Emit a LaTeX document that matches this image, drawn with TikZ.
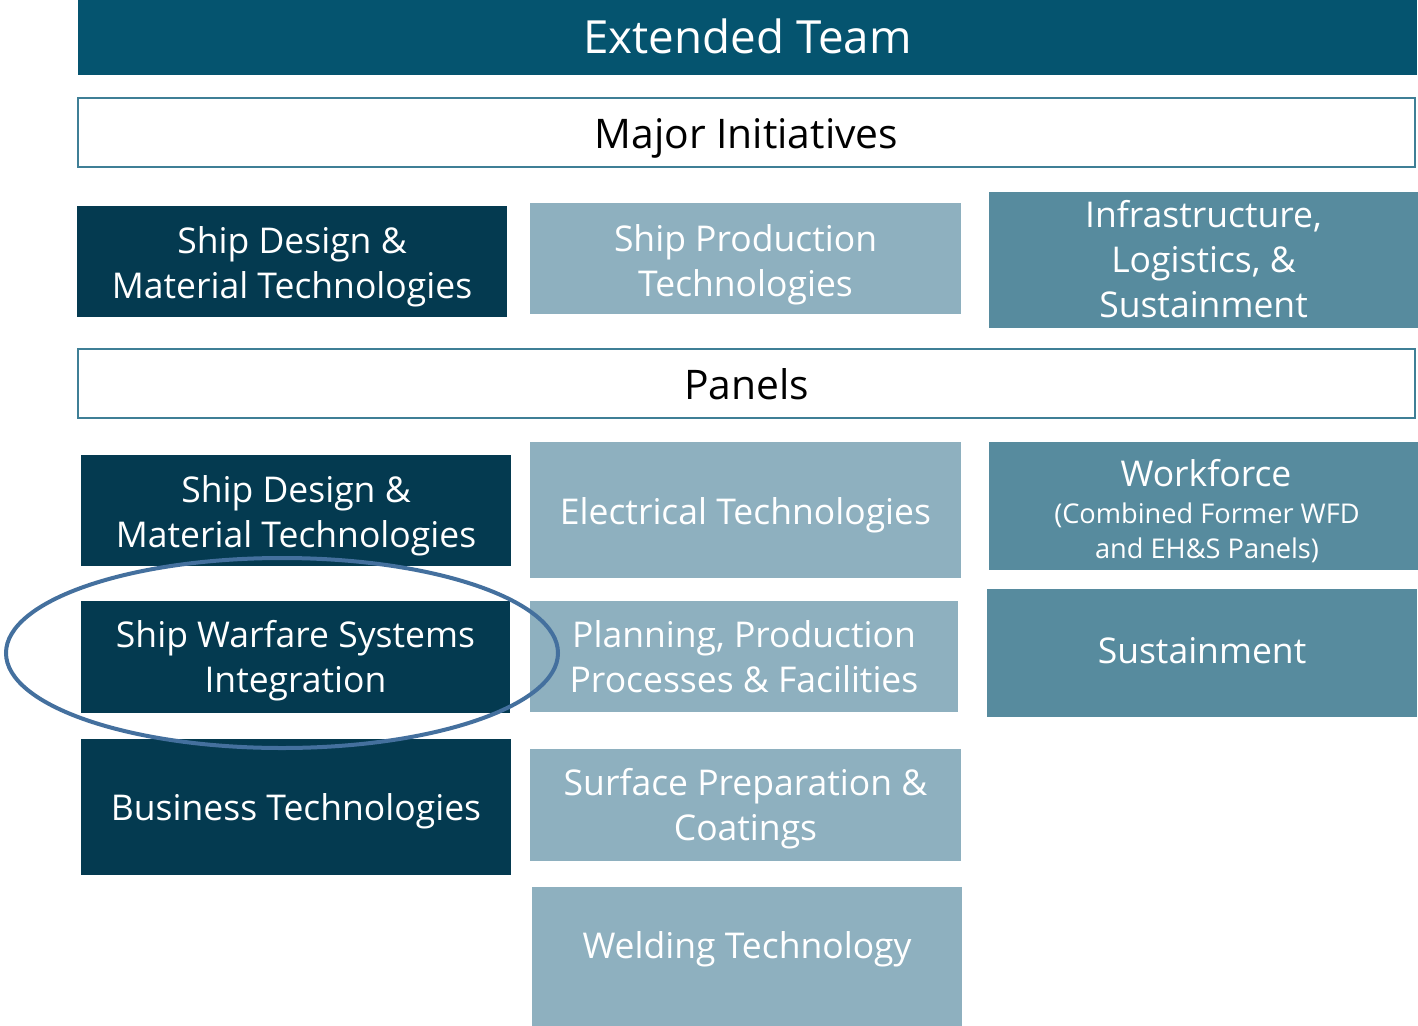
\documentclass[tikz,border=0pt]{standalone}
\usepackage{fontspec}
\setmainfont{Open Sans}
\definecolor{extc}{HTML}{05546F}
\definecolor{navy}{HTML}{043A50}
\definecolor{lightc}{HTML}{8EB0BF}
\definecolor{midc}{HTML}{578B9E}
\definecolor{framec}{HTML}{3F7F96}
\definecolor{ringc}{HTML}{44709E}
\begin{document}
\begin{tikzpicture}[x=1pt,y=-1pt,
  box/.style={rectangle, inner sep=0pt},
  darkbox/.style={box, fill=navy},
  lightbox/.style={box, fill=lightc},
  midbox/.style={box, fill=midc},
  headbox/.style={rectangle, inner sep=0pt, draw=framec, line width=1.2pt, fill=white},
  lbl/.style={inner sep=0pt, align=center, text=white, font=\fontsize{35.5}{45}\selectfont},
  small/.style={inner sep=0pt, align=center, text=white, font=\fontsize{27.2}{35}\selectfont},
  head/.style={inner sep=0pt, align=center, text=black, font=\fontsize{40.8}{48}\selectfont}
]
\useasboundingbox (0,0) rectangle (1418,1025);
\fill[white] (0,0) rectangle (1418,1025);

\node[box, fill=extc, minimum width=1339, minimum height=75,
  label={[lbl, font=\fontsize{45.7}{54}\selectfont, yshift=1pt]center:Extended Team}] (ext) at (747.5,37.5) {};
\node[headbox, minimum width=1337, minimum height=69,
  label={[head, yshift=-6pt]center:Major Initiatives}] (maj) at (746.5,132.5) {};

\node[darkbox, minimum width=430, minimum height=111,
  label={[lbl, yshift=-5pt]center:{Ship Design \&\\Material Technologies}}] (sd1) at (292,261.5) {};
\node[lightbox, minimum width=431, minimum height=111,
  label={[lbl, yshift=-6pt]center:{Ship Production\\Technologies}}] (sp) at (745.5,258.5) {};
\node[midbox, minimum width=429, minimum height=136,
  label={[lbl, yshift=1pt]center:{Infrastructure,\\Logistics, \&\\Sustainment}}] (inf) at (1203.5,260) {};

\node[headbox, minimum width=1337, minimum height=69,
  label={[head, yshift=-1pt]center:Panels}] (pan) at (746.5,383.5) {};

\node[darkbox, minimum width=430, minimum height=111,
  label={[lbl, yshift=-5pt]center:{Ship Design \&\\Material Technologies}}] (sd2) at (296,510.5) {};
\node[darkbox, minimum width=429, minimum height=112,
  label={[lbl, yshift=-4pt]center:{Ship Warfare Systems\\Integration}}] (sw) at (295.5,657) {};
\node[darkbox, minimum width=430, minimum height=136,
  label={[lbl, yshift=-4pt]center:Business Technologies}] (bt) at (296,807) {};

\node[lightbox, minimum width=431, minimum height=136,
  label={[lbl, yshift=-5pt]center:Electrical Technologies}] (el) at (745.5,510) {};
\node[lightbox, minimum width=428, minimum height=111,
  label={[lbl, yshift=0pt]center:{Planning, Production\\Processes \& Facilities}}] (pl) at (744,656.5) {};
\node[lightbox, minimum width=431, minimum height=112,
  label={[lbl, yshift=-4pt]center:{Surface Preparation \&\\Coatings}}] (surf) at (745.5,805) {};
\node[lightbox, minimum width=430, minimum height=140,
  label={[lbl, yshift=8pt]center:Welding Technology}] (weld) at (747,957) {};

\node[midbox, minimum width=429, minimum height=128] (wf) at (1203.5,506) {};
\node[lbl] (wft) at (1206,473) {Workforce};
\node[small] (wfs) at (1207,533) {(Combined Former WFD\\and EH\&S Panels)};
\node[midbox, minimum width=430, minimum height=128,
  label={[lbl, yshift=2pt]center:Sustainment}] (sus) at (1202,653) {};

\draw[ringc, line width=4pt] (282,653) ellipse [x radius=276, y radius=95];
\end{tikzpicture}
\end{document}
